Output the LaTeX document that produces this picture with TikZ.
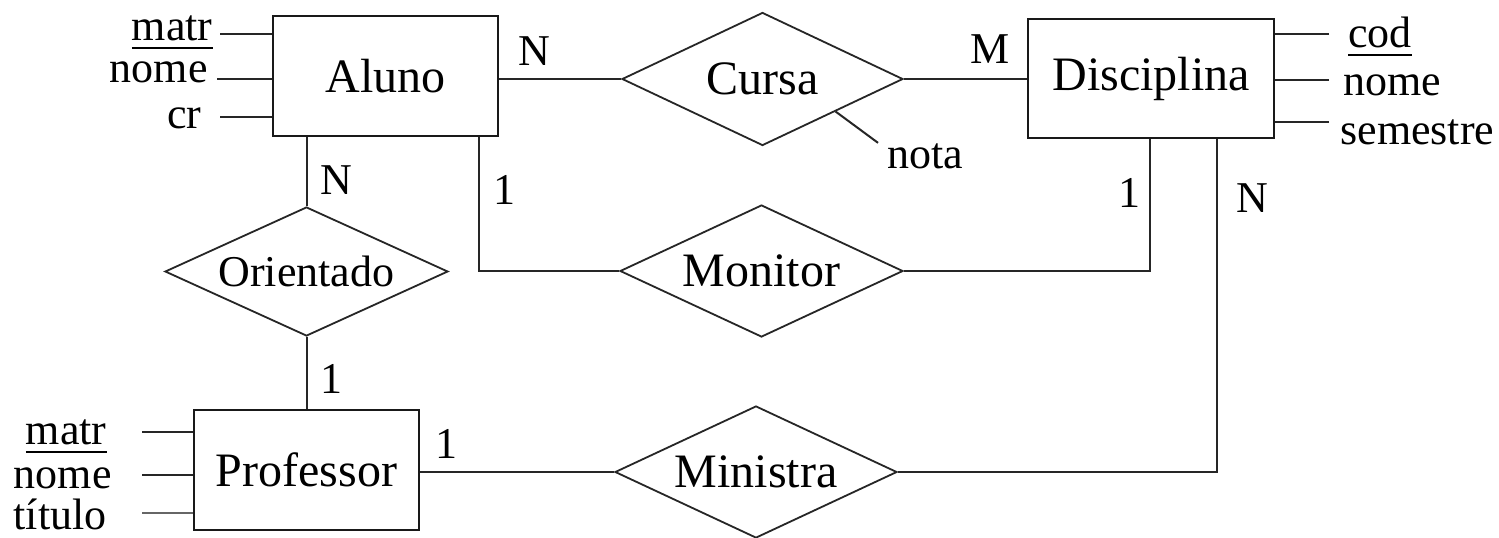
\documentclass[tikz,border=0pt]{standalone}
\usepackage{fontspec}
\setmainfont{Liberation Serif}
\usetikzlibrary{shapes.geometric}
\newcommand{\keyul}[1]{\setbox0\hbox{#1}\rlap{\rule[-4.5pt]{\wd0}{0.9pt}}\box0}
\begin{document}
\begin{tikzpicture}[x=0.5pt,y=-0.5pt,
  entity/.style={draw=black!90, line width=1.3pt, rectangle, inner sep=0pt, font=\fontsize{24}{28}\selectfont},
  rel/.style={draw=black!85, line width=0.9pt, diamond, aspect=2.1, inner sep=0pt, font=\fontsize{24}{28}\selectfont},
  attr/.style={inner sep=0pt, font=\fontsize{22}{26}\selectfont},
  card/.style={inner sep=0pt, font=\fontsize{22}{26}\selectfont},
  conn/.style={draw=black!85, line width=1pt},
]
\path[fill=white, use as bounding box] (0,0) rectangle (1499,537);

% entities
\node[entity, minimum width=112.5pt, minimum height=60pt] (aluno) at (385.5,76) {Aluno};
\node[entity, minimum width=123pt, minimum height=59.5pt] (disc) at (1151,78.5) {Disciplina};
\node[entity, minimum width=112.5pt, minimum height=60pt] (prof) at (306.5,470) {Professor};

% relationships
\node[rel, minimum width=140.5pt, minimum height=66.5pt] (cursa) at (762.5,79) {Cursa};
\node[rel, minimum width=141.5pt, minimum height=66pt] (monitor) at (761.5,271) {Monitor};
\node[rel, minimum width=141pt, minimum height=66pt] (ministra) at (756,472) {Ministra};
\node[rel, font=\fontsize{22}{26}\selectfont, minimum width=141.5pt, minimum height=64.5pt] (orient) at (306.5,271.5) {Orientado};

% connectors
\draw[conn] (cursa.west) -- (cursa.west -| aluno.east);
\draw[conn] (cursa.east) -- (cursa.east -| disc.west);
\draw[conn] (orient.north) -- (orient.north |- aluno.south);
\draw[conn] (orient.south) -- (orient.south |- prof.north);
\draw[conn] (monitor.west) -| ([xshift=46.75pt]aluno.south);
\draw[conn] (monitor.east) -| ([xshift=-0.5pt]disc.south);
\draw[conn] (ministra.east) -| ([xshift=33pt]disc.south);
\draw[conn] (ministra.west) -- (ministra.west -| prof.east);

% Aluno attributes
\node[attr, anchor=base east] (am) at (213,40) {\keyul{matr}};
\node[attr, anchor=base east] (an) at (208,82) {nome};
\node[attr, anchor=base east] (acr) at (202,128) {cr};
\draw[conn] ([xshift=3.5pt]am.east |- 0,34) -- (aluno.west |- 0,34);
\draw[conn] ([xshift=4.5pt]an.east |- 0,79) -- (aluno.west |- 0,79);
\draw[conn] ([xshift=9pt]acr.east |- 0,117) -- (aluno.west |- 0,117);

% Disciplina attributes
\node[attr, anchor=base west] (dc) at (1348,47) {\keyul{cod}};
\node[attr, anchor=base west] (dn) at (1343,95) {nome};
\node[attr, anchor=base west] (ds) at (1340,144) {semestre};
\draw[conn] ([xshift=-9.5pt]dc.west |- 0,34) -- (disc.east |- 0,34);
\draw[conn] ([xshift=-7pt]dn.west |- 0,80) -- (disc.east |- 0,80);
\draw[conn] ([xshift=-5.5pt]ds.west |- 0,122) -- (disc.east |- 0,122);

% Professor attributes
\node[attr, anchor=base east] (pm) at (107,444) {\keyul{matr}};
\node[attr, anchor=base east] (pn) at (112,488) {nome};
\node[attr, anchor=base east] (pt) at (107,529) {título};
\draw[conn] ([xshift=17.5pt]pm.east |- 0,432) -- (prof.west |- 0,432);
\draw[conn] ([xshift=15pt]pn.east |- 0,475) -- (prof.west |- 0,475);
\draw[conn, draw=black!60] ([xshift=17.5pt]pt.east |- 0,513) -- (prof.west |- 0,513);

% nota attribute of Cursa
\node[attr, anchor=base west] (nota) at (887,168) {nota};
\draw[conn] (cursa.-24.5) -- ([xshift=-4.5pt]nota.north west);

% cardinalities
\node[card, anchor=base west] (c1) at (518,65) {N};
\node[card, anchor=base west] (c2) at (970,63) {M};
\node[card, anchor=base west] (c3) at (320,194) {N};
\node[card, anchor=base west] (c4) at (493,204) {1};
\node[card, anchor=base west] (c5) at (1118,207) {1};
\node[card, anchor=base west] (c6) at (1236,212) {N};
\node[card, anchor=base west] (c7) at (320,393) {1};
\node[card, anchor=base west] (c8) at (435,458) {1};
\end{tikzpicture}
\end{document}
